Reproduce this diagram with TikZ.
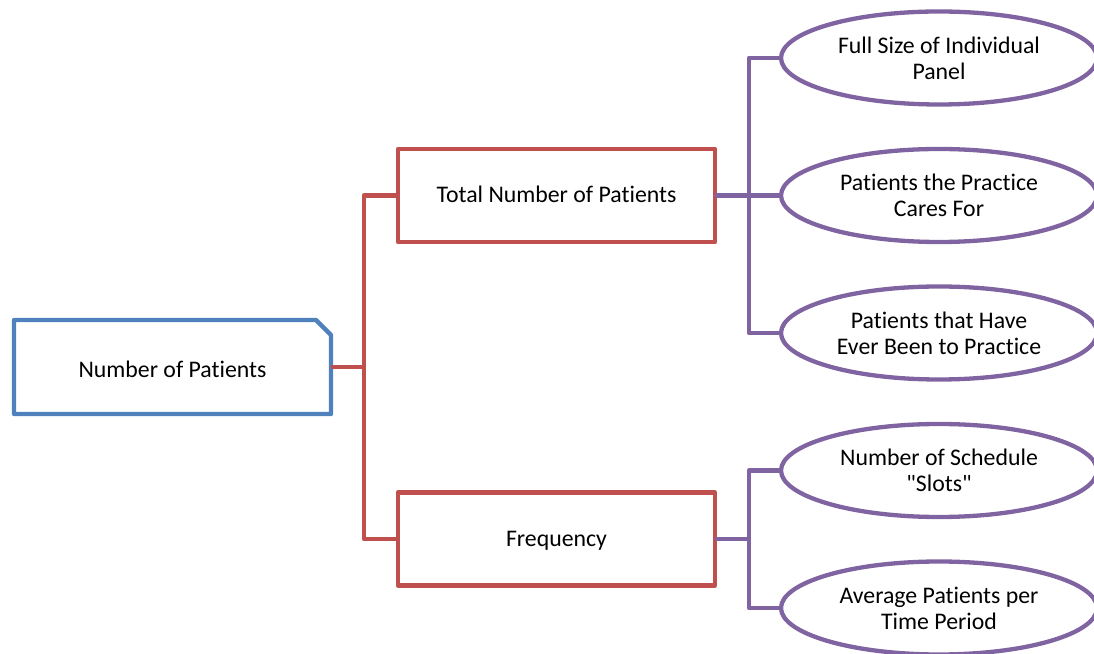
\documentclass[tikz,border=0pt]{standalone}
\usepackage{fontspec}
\setmainfont{Carlito}[Ligatures=NoCommon]
\usetikzlibrary{positioning,calc,shapes.geometric}
\definecolor{rootblue}{HTML}{4F81BD}
\definecolor{midred}{HTML}{C0504D}
\definecolor{leafpurple}{HTML}{8064A2}
\tikzset{
	every node/.style={font=\fontsize{23.8}{26}\selectfont, align=center, inner sep=0pt, outer sep=0pt},
	rootbox/.style={rectangle, minimum width=317pt, minimum height=94pt, text height=21.3pt, text depth=0pt},
	rootline/.style={draw=rootblue, line width=4.3pt},
	midbox/.style={draw=midred, line width=4.3pt, rectangle, minimum width=317pt, minimum height=93pt, text height=17pt, text depth=2pt},
	leaf/.style={draw=leafpurple, line width=4.3pt, ellipse, minimum width=316pt, minimum height=93pt},
	redwire/.style={draw=midred, line width=4.3pt},
	purplewire/.style={draw=leafpurple, line width=4.3pt},
}
\begin{document}
\begin{tikzpicture}[x=1pt, y=1pt, line join=round]
	\useasboundingbox (0,0) rectangle (1094,653);
	
	\node[rootbox] (root) at (172.5,286) {Number of Patients};
	\draw[rootline] (root.south west) -- (root.north west)
		-- ($(root.north east)+(-15,0)$) -- ($(root.north east)+(0,-15)$)
		-- (root.south east) -- cycle;
	
	\node[midbox] (total) at (556.5,457.5) {Total Number of Patients};
	\node[midbox] (freq) at (556.5,114) {Frequency};
	
	\node[leaf] (full) at (939,595) {Full Size of Individual\\Panel};
	\node[leaf, below=44.5pt of full] (cares) {Patients the Practice\\Cares For};
	\node[leaf, below=44.5pt of cares] (ever) {Patients that Have\\Ever Been to Practice};
	\node[leaf, below=44.5pt of ever] (slots) {Number of Schedule\\\textquotedbl Slots\textquotedbl};
	\node[leaf, below=44.5pt of slots] (avg) {Average Patients per\\Time Period};
	
	\draw[redwire] (root.east) -- ++(33,0) coordinate (rsplit);
	\draw[redwire] (total.west) -| (rsplit) |- (freq.west);
	
	\draw[purplewire] (total.east) -- ++(34,0) coordinate (tsplit);
	\draw[purplewire] (full.west) -| (tsplit) |- (ever.west);
	\draw[purplewire] (tsplit) -- (cares.west);
	
	\draw[purplewire] (freq.east) -- ++(34,0) coordinate (fsplit);
	\draw[purplewire] (slots.west) -| (fsplit) |- (avg.west);
\end{tikzpicture}
\end{document}
